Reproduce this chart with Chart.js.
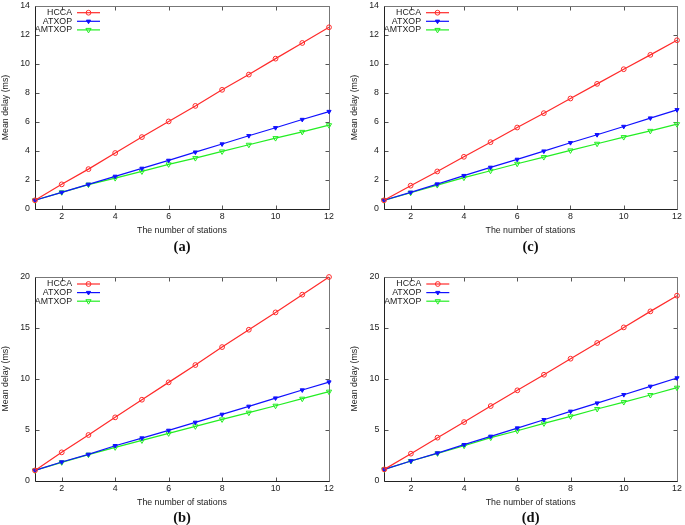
<!DOCTYPE html>
<html>
<head>
<meta charset="utf-8">
<script src="https://cdn.jsdelivr.net/npm/chart.js@4/dist/chart.umd.min.js"></script>
<style>
  html, body { margin: 0; padding: 0; background: #fff; }
  body { width: 685px; height: 525px; position: relative; overflow: hidden; }
  .panel { position: absolute; }
</style>
</head>
<body>
<div class="panel" id="pa" style="left:0px;top:0px;width:342px;height:262px;"><canvas id="ca"></canvas></div>
<div class="panel" id="pc" style="left:349px;top:0px;width:336px;height:262px;"><canvas id="cc"></canvas></div>
<div class="panel" id="pb" style="left:0px;top:262px;width:342px;height:263px;"><canvas id="cb"></canvas></div>
<div class="panel" id="pd" style="left:349px;top:262px;width:336px;height:263px;"><canvas id="cd"></canvas></div>
<script>
// ---- data ----
const stations = [1, 2, 3, 4, 5, 6, 7, 8, 9, 10, 11, 12];
const xTicks = [2, 4, 6, 8, 10, 12];
const yTicks14 = [0, 2, 4, 6, 8, 10, 12, 14];
const yTicks20 = [0, 5, 10, 15, 20];
const seriesNames = ['HCCA', 'ATXOP', 'AMTXOP'];
const xTitle = 'The number of stations';
const yTitle = 'Mean delay (ms)';

const hccaA   = [0.60, 1.70, 2.75, 3.86, 4.96, 6.04, 7.11, 8.22, 9.27, 10.37, 11.45, 12.53];
const atxopA  = [0.60, 1.15, 1.70, 2.25, 2.80, 3.35, 3.92, 4.48, 5.05, 5.60, 6.17, 6.72];
const amtxopA = [0.60, 1.15, 1.68, 2.13, 2.59, 3.08, 3.51, 3.97, 4.43, 4.89, 5.32, 5.78];

const hccaB   = [1.01, 2.78, 4.48, 6.21, 7.94, 9.64, 11.34, 13.10, 14.80, 16.50, 18.24, 19.97];
const atxopB  = [1.01, 1.83, 2.58, 3.43, 4.18, 4.93, 5.72, 6.50, 7.29, 8.10, 8.89, 9.67];
const amtxopB = [1.01, 1.80, 2.55, 3.27, 3.95, 4.64, 5.33, 6.01, 6.67, 7.35, 8.04, 8.73];

const hccaC   = [0.60, 1.61, 2.59, 3.60, 4.61, 5.62, 6.61, 7.62, 8.63, 9.64, 10.63, 11.64];
const atxopC  = [0.60, 1.15, 1.72, 2.30, 2.87, 3.42, 3.99, 4.57, 5.12, 5.69, 6.27, 6.84];
const amtxopC = [0.60, 1.12, 1.65, 2.16, 2.64, 3.12, 3.58, 4.04, 4.50, 4.96, 5.39, 5.85];

const hccaD   = [1.11, 2.65, 4.22, 5.75, 7.32, 8.86, 10.39, 11.96, 13.50, 15.03, 16.60, 18.14];
const atxopD  = [1.11, 1.93, 2.71, 3.53, 4.35, 5.16, 5.98, 6.80, 7.61, 8.43, 9.25, 10.07];
const amtxopD = [1.11, 1.93, 2.68, 3.43, 4.22, 4.90, 5.62, 6.31, 7.03, 7.71, 8.40, 9.12];

// ---- styling ----
const FONT = "'Liberation Sans', Arial, sans-serif";
const TXT = '#222';
const styles = [
  { color: '#ff2a2a', pointStyle: 'circle', radius: 2.4, fill: false, rot: 0 },
  { color: '#1010ff', pointStyle: 'triangle', radius: 2.4, fill: true, rot: 180 },
  { color: '#22ee22', pointStyle: 'triangle', radius: 3.0, fill: false, rot: 180 }
];

function makeFramePlugin(yTicks, geom) {
  return {
    id: 'gnuFrame',
    beforeDatasetsDraw(chart) {
      const { ctx, chartArea: a, scales: { x, y } } = chart;
      ctx.save();
      const L = Math.round(a.left) + 0.5, R = Math.round(a.right) + 0.5;
      const T = Math.round(a.top) + 0.5, B = Math.round(a.bottom) + 0.5;
      ctx.lineWidth = 1;
      ctx.strokeStyle = '#555';
      const tl = 4;
      ctx.beginPath();
      xTicks.forEach(v => {
        const px = Math.round(x.getPixelForValue(v)) + 0.5;
        ctx.moveTo(px, B); ctx.lineTo(px, B - tl);
        ctx.moveTo(px, T); ctx.lineTo(px, T + tl);
      });
      yTicks.forEach(v => {
        const py = Math.round(y.getPixelForValue(v)) + 0.5;
        ctx.moveTo(L, py); ctx.lineTo(L + tl, py);
        ctx.moveTo(R, py); ctx.lineTo(R - tl, py);
      });
      ctx.stroke();
      ctx.strokeStyle = '#777';
      ctx.beginPath();
      ctx.moveTo(L, T); ctx.lineTo(R, T); ctx.lineTo(R, B);
      ctx.stroke();
      ctx.strokeStyle = '#222';
      ctx.beginPath();
      ctx.moveTo(L, T); ctx.lineTo(L, B); ctx.lineTo(R, B);
      ctx.stroke();
      ctx.restore();
    },
    afterDraw(chart) {
      const { ctx, chartArea: a } = chart;
      ctx.save();
      ctx.font = '8.8px ' + FONT;
      ctx.textBaseline = 'middle';
      ctx.textAlign = 'right';
      chart.data.datasets.forEach((ds, i) => {
        const yy = a.top + geom.legTop + i * 8.6;
        ctx.fillStyle = TXT;
        ctx.fillText(ds.label, a.left + 37, yy);
        ctx.strokeStyle = ds.borderColor;
        ctx.lineWidth = 1.2;
        ctx.beginPath();
        ctx.moveTo(a.left + 42, yy); ctx.lineTo(a.left + 65, yy);
        ctx.stroke();
        const st = styles[i];
        ctx.fillStyle = st.fill ? ds.borderColor : 'rgba(255,255,255,0)';
        ctx.strokeStyle = ds.borderColor;
        ctx.lineWidth = 1;
        Chart.helpers.drawPoint(ctx, {
          pointStyle: st.pointStyle, radius: st.radius, rotation: st.rot, borderWidth: 1
        }, a.left + 53.5, yy);
      });
      ctx.font = "bold 14.5px 'Liberation Serif', 'Times New Roman', serif";
      ctx.fillStyle = '#111';
      ctx.textAlign = 'center';
      ctx.textBaseline = 'middle';
      ctx.fillText(geom.caption, (a.left + a.right) / 2, geom.captionY);
      ctx.restore();
    }
  };
}

function makePanel(canvasId, values, yMax, yTicks, geom) {
  const datasets = seriesNames.map((name, i) => ({
    label: name,
    data: stations.map((s, k) => ({ x: s, y: values[i][k] })),
    borderColor: styles[i].color,
    backgroundColor: styles[i].fill ? styles[i].color : 'rgba(255,255,255,0)',
    pointBackgroundColor: styles[i].fill ? styles[i].color : 'rgba(255,255,255,0)',
    pointBorderColor: styles[i].color,
    pointStyle: styles[i].pointStyle,
    pointRadius: styles[i].radius,
    pointRotation: styles[i].rot,
    pointBorderWidth: 1,
    borderWidth: 1.2,
    tension: 0,
    clip: false
  }));
  return new Chart(document.getElementById(canvasId), {
    type: 'line',
    data: { datasets },
    options: {
      responsive: true,
      maintainAspectRatio: false,
      animation: false,
      events: [],
      layout: { padding: geom.padding },
      plugins: { legend: { display: false }, tooltip: { enabled: false } },
      scales: {
        x: {
          type: 'linear', min: 1, max: 12,
          afterBuildTicks: s => { s.ticks = xTicks.map(v => ({ value: v })); },
          afterFit: s => { s.height = geom.xHeight; s.paddingLeft = 0; s.paddingRight = 0; },
          grid: { display: false, drawTicks: false },
          border: { display: false },
          ticks: { color: TXT, font: { family: FONT, size: 8.8 }, padding: geom.xTickPad, maxRotation: 0, autoSkip: false },
          title: { display: true, text: xTitle, color: TXT, font: { family: FONT, size: 8.8 }, padding: 0 }
        },
        y: {
          type: 'linear', min: 0, max: yMax,
          afterBuildTicks: s => { s.ticks = yTicks.map(v => ({ value: v })); },
          afterFit: s => { s.width = geom.yWidth; s.paddingTop = 0; s.paddingBottom = 0; },
          grid: { display: false, drawTicks: false },
          border: { display: false },
          ticks: { color: TXT, font: { family: FONT, size: 8.8 }, padding: 5, autoSkip: false },
          title: { display: true, text: yTitle, color: TXT, font: { family: FONT, size: 8.8 }, padding: 0 }
        }
      }
    },
    plugins: [makeFramePlugin(yTicks, geom)]
  });
}

Chart.defaults.font.family = FONT;

makePanel('ca', [hccaA, atxopA, amtxopA], 14, yTicks14, {
  padding: { left: 0, top: 6, right: 13, bottom: 26.6 }, xHeight: 26.4, yWidth: 35,
  xTickPad: 2, legTop: 6.7, caption: '(a)', captionY: 247
});
makePanel('cc', [hccaC, atxopC, amtxopC], 14, yTicks14, {
  padding: { left: 0, top: 6, right: 8, bottom: 26.6 }, xHeight: 26.4, yWidth: 35,
  xTickPad: 2, legTop: 6.7, caption: '(c)', captionY: 247
});
makePanel('cb', [hccaB, atxopB, amtxopB], 20, yTicks20, {
  padding: { left: 0, top: 14.7, right: 13, bottom: 17.6 }, xHeight: 26.7, yWidth: 35,
  xTickPad: 3, legTop: 7.3, caption: '(b)', captionY: 256
});
makePanel('cd', [hccaD, atxopD, amtxopD], 20, yTicks20, {
  padding: { left: 0, top: 14.7, right: 8, bottom: 17.6 }, xHeight: 26.7, yWidth: 35.3,
  xTickPad: 3, legTop: 7.3, caption: '(d)', captionY: 256
});
</script>
</body>
</html>
